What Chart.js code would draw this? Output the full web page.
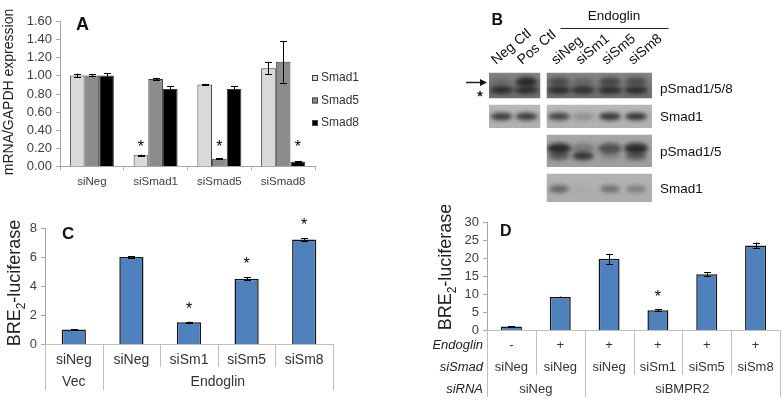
<!DOCTYPE html>
<html>
<head>
<meta charset="utf-8">
<script src="https://cdn.jsdelivr.net/npm/chart.js@4.4.0/dist/chart.umd.min.js"></script>
<style>
html, body { margin: 0; padding: 0; background: #fff; }
body { width: 784px; height: 402px; position: relative; overflow: hidden; }
canvas { position: absolute; }
#chartA { left: 0; top: 0; }
#blotB { left: 390px; top: 0; }
#chartC { left: 0; top: 200px; }
#chartD { left: 390px; top: 205px; }
</style>
</head>
<body>
<canvas id="chartA" width="390" height="200"></canvas>
<canvas id="blotB" width="394" height="205"></canvas>
<canvas id="chartC" width="390" height="202"></canvas>
<canvas id="chartD" width="394" height="197"></canvas>
<script>
// ---- panel A data
var catsA = ['siNeg', 'siSmad1', 'siSmad5', 'siSmad8'];
var yTicksA = [0, 0.2, 0.4, 0.6, 0.8, 1.0, 1.2, 1.4, 1.6];
var smad1 = [1.00, 0.12, 0.90, 1.08];
var smad1Err = [0.02, 0.006, 0.006, 0.07];
var smad5 = [1.00, 0.96, 0.08, 1.15];
var smad5Err = [0.01, 0.012, 0.004, 0.23];
var smad8 = [1.00, 0.85, 0.85, 0.05];
var smad8Err = [0.025, 0.03, 0.03, 0.004];
var smad1Star = [false, true, false, false];
var smad5Star = [false, false, true, false];
var smad8Star = [false, false, false, true];

// ---- panel B (blot) data
var laneNames = ['Neg Ctl', 'Pos Ctl', 'siNeg', 'siSm1', 'siSm5', 'siSm8'];
var blotRows = ['pSmad1/5/8', 'Smad1', 'pSmad1/5', 'Smad1'];
var pSmad158Upper = [0.2, 0.95, 0.6, 0.25, 0.65, 0.6];
var pSmad158Lower = [0.9, 0.9, 0.9, 0.85, 0.9, 0.9];
var smad1Band = [0.85, 0.85, 0.8, 0.25, 0.9, 0.9];
var pSmad15Upper = [0.95, 0.3, 0.65, 0.95];
var pSmad15Lower = [0.6, 0.9, 0.2, 0.6];
var smad1BandB = [0.55, 0.05, 0.45, 0.35];

// ---- panel C data
var catsC = ['siNeg', 'siNeg', 'siSm1', 'siSm5', 'siSm8'];
var groupsC = [['Vec', 1], ['Endoglin', 4]];
var yTicksC = [0, 2, 4, 6, 8];
var valsC = [1.0, 6.0, 1.5, 4.5, 7.2];
var errC = [0.03, 0.05, 0.05, 0.12, 0.1];
var starsC = [false, false, true, true, true];

// ---- panel D data
var endoglinD = ['-', '+', '+', '+', '+', '+'];
var siSmadD = ['siNeg', 'siNeg', 'siNeg', 'siSm1', 'siSm5', 'siSm8'];
var siRnaD = [['siNeg', 2], ['siBMPR2', 4]];
var yTicksD = [0, 5, 10, 15, 20, 25, 30];
var valsD = [1.0, 9.2, 19.8, 5.5, 15.5, 23.5];
var errD = [0.1, 0.1, 1.4, 0.25, 0.6, 0.8];
var starsD = [false, false, false, true, false, false];

var FONT = '"Liberation Sans", Arial, sans-serif';
Chart.defaults.font.family = FONT;
Chart.defaults.color = '#404040';

function cells(list) { return list.map(function (t) { return [t, 1]; }); }

// one plugin per chart: y ticks, error bars, stars, legend, letter, y title, label rows
function makeExtras(o) {
  return {
    id: 'extras',
    afterDatasetsDraw: function (chart) {
      var ctx = chart.ctx, ys = chart.scales.y, area = chart.chartArea;
      ctx.save();

      var lx = Math.round(area.left);
      ctx.font = '13px ' + FONT;
      ctx.fillStyle = '#404040';
      ctx.textAlign = 'right';
      ctx.textBaseline = 'middle';
      ctx.strokeStyle = '#a6a6a6';
      ctx.lineWidth = 1;
      o.yTicks.forEach(function (tv) {
        var py = Math.round(ys.getPixelForValue(tv)) + 0.5;
        ctx.beginPath();
        ctx.moveTo(lx - 4, py); ctx.lineTo(lx, py);
        ctx.stroke();
        ctx.fillText(tv.toFixed(o.decimals), lx - 8, py);
      });

      chart.data.datasets.forEach(function (ds, di) {
        var meta = chart.getDatasetMeta(di);
        meta.data.forEach(function (bar, i) {
          var v = ds.data[i], e = ds.errors ? ds.errors[i] : 0;
          var top = ys.getPixelForValue(v + e), bot = ys.getPixelForValue(v - e);
          if (e > 0) {
            ctx.strokeStyle = '#000';
            ctx.lineWidth = 1;
            var bx = Math.round(bar.x) + 0.5;
            ctx.beginPath();
            ctx.moveTo(bx, top); ctx.lineTo(bx, bot);
            ctx.moveTo(bx - o.cap, Math.round(top) + 0.5); ctx.lineTo(bx + o.cap, Math.round(top) + 0.5);
            ctx.moveTo(bx - o.cap, Math.round(bot) + 0.5); ctx.lineTo(bx + o.cap, Math.round(bot) + 0.5);
            ctx.stroke();
          }
          if (ds.stars && ds.stars[i]) {
            var sy = o.starValue != null ? ys.getPixelForValue(o.starValue) : top - o.starGap;
            ctx.fillStyle = '#000';
            ctx.font = '16px ' + FONT;
            ctx.textAlign = 'center';
            ctx.textBaseline = 'alphabetic';
            ctx.fillText('*', bar.x, sy + 9);
          }
        });
      });

      if (o.legend) {
        ctx.font = '12px ' + FONT;
        ctx.textAlign = 'left';
        ctx.textBaseline = 'middle';
        chart.data.datasets.forEach(function (ds, di) {
          var ly = o.legend.y[di];
          ctx.fillStyle = ds.backgroundColor;
          ctx.fillRect(o.legend.x, ly - 3, 6, 6);
          ctx.strokeStyle = '#404040';
          ctx.lineWidth = 1;
          ctx.strokeRect(o.legend.x + 0.5, ly - 2.5, 5, 5);
          ctx.fillStyle = '#333';
          ctx.fillText(ds.label, o.legend.x + 9, ly);
        });
      }

      ctx.fillStyle = '#111';
      ctx.font = 'bold ' + o.letter.size + 'px ' + FONT;
      ctx.textAlign = 'left';
      ctx.textBaseline = 'alphabetic';
      ctx.fillText(o.letter.text, o.letter.x, o.letter.y);

      var t = o.title, sz = t.size, subSz = Math.round(sz * 0.65);
      ctx.translate(t.x, t.y);
      ctx.rotate(-Math.PI / 2);
      ctx.fillStyle = '#222';
      var total = 0;
      t.parts.forEach(function (p) {
        ctx.font = (p.sub ? subSz : sz) + 'px ' + FONT;
        total += ctx.measureText(p.text).width;
      });
      var px = -total / 2;
      t.parts.forEach(function (p) {
        ctx.font = (p.sub ? subSz : sz) + 'px ' + FONT;
        ctx.fillText(p.text, px, p.sub ? sz * 0.28 : 0);
        px += ctx.measureText(p.text).width;
      });
      ctx.setTransform(1, 0, 0, 1, 0, 0);

      if (o.rows) {
        var n = chart.data.labels.length, w = (area.right - area.left) / n;
        o.rows.forEach(function (row) {
          var pos = 0, bounds = [0];
          ctx.fillStyle = '#333';
          ctx.font = o.rowFont + 'px ' + FONT;
          ctx.textAlign = 'center';
          ctx.textBaseline = 'middle';
          row.cells.forEach(function (c) {
            ctx.fillText(c[0], area.left + (pos + c[1] / 2) * w, row.y);
            pos += c[1];
            bounds.push(pos);
          });
          ctx.strokeStyle = '#bfbfbf';
          ctx.lineWidth = 1;
          ctx.beginPath();
          bounds.forEach(function (b) {
            var bx = Math.round(area.left + b * w) + 0.5;
            ctx.moveTo(bx, area.bottom); ctx.lineTo(bx, row.end);
          });
          ctx.stroke();
          if (row.title) {
            ctx.fillStyle = '#222';
            ctx.font = 'italic ' + o.rowFont + 'px ' + FONT;
            ctx.textAlign = 'right';
            ctx.fillText(row.title, area.left - 4, row.y);
          }
        });
      }
      ctx.restore();
    }
  };
}

function yAxis(ticks, width) {
  return {
    min: ticks[0], max: ticks[ticks.length - 1],
    ticks: { display: false },
    grid: { display: false },
    border: { color: '#a6a6a6' },
    afterFit: function (s) { s.width = width; }
  };
}

function baseOptions(padding) {
  return {
    responsive: false,
    animation: false,
    devicePixelRatio: 1,
    layout: { padding: padding },
    plugins: { legend: { display: false }, tooltip: { enabled: false } }
  };
}

// ---- A
var optA = baseOptions({ left: 0, top: 21, right: 75, bottom: 0 });
optA.scales = {
  x: {
    ticks: { font: { size: 11.5 }, color: '#404040', padding: 5 },
    grid: { drawOnChartArea: false, tickLength: 4, color: '#a6a6a6' },
    border: { color: '#a6a6a6' },
    afterFit: function (s) { s.height = 34; }
  },
  y: yAxis(yTicksA, 60)
};
new Chart(document.getElementById('chartA'), {
  type: 'bar',
  data: {
    labels: catsA,
    datasets: [
      { label: 'Smad1', data: smad1, errors: smad1Err, stars: smad1Star, backgroundColor: '#d9d9d9' },
      { label: 'Smad5', data: smad5, errors: smad5Err, stars: smad5Star, backgroundColor: '#8c8c8c' },
      { label: 'Smad8', data: smad8, errors: smad8Err, stars: smad8Star, backgroundColor: '#000000' }
    ].map(function (d) {
      d.borderColor = '#3a3a3a'; d.borderWidth = 1;
      d.categoryPercentage = 0.69; d.barPercentage = 1.0;
      return d;
    })
  },
  options: optA,
  plugins: [makeExtras({
    yTicks: yTicksA, decimals: 2,
    cap: 3.5, starValue: 0.25,
    legend: { x: 312, y: [78, 100.5, 123] },
    letter: { text: 'A', x: 76, y: 29.5, size: 18 },
    title: { x: 12.5, y: 92, size: 14, parts: [{ text: 'mRNA/GAPDH expression' }] }
  })]
});

// ---- C
var optC = baseOptions({ left: 0, top: 28, right: 57, bottom: 0 });
optC.scales = {
  x: {
    ticks: { display: false },
    grid: { display: false },
    border: { color: '#bfbfbf' },
    afterFit: function (s) { s.height = 58; }
  },
  y: yAxis(yTicksC, 45)
};
new Chart(document.getElementById('chartC'), {
  type: 'bar',
  data: {
    labels: catsC,
    datasets: [{
      data: valsC, errors: errC, stars: starsC,
      backgroundColor: '#4f81bd', borderColor: '#151515', borderWidth: 1.5,
      categoryPercentage: 1, barPercentage: 0.42
    }]
  },
  options: optC,
  plugins: [makeExtras({
    yTicks: yTicksC, decimals: 0,
    cap: 3.5, starGap: 17,
    letter: { text: 'C', x: 62, y: 39, size: 17 },
    title: { x: 19.5, y: 83, size: 18, parts: [{ text: 'BRE' }, { text: '2', sub: true }, { text: '-luciferase' }] },
    rowFont: 14,
    rows: [
      { cells: cells(catsC), y: 160.5, end: 167 },
      { cells: groupsC, y: 182, end: 190 }
    ]
  })]
});

// ---- D
var optD = baseOptions({ left: 0, top: 17, right: 4, bottom: 0 });
optD.scales = {
  x: {
    ticks: { display: false },
    grid: { display: false },
    border: { color: '#bfbfbf' },
    afterFit: function (s) { s.height = 72; }
  },
  y: yAxis(yTicksD, 97)
};
new Chart(document.getElementById('chartD'), {
  type: 'bar',
  data: {
    labels: siSmadD,
    datasets: [{
      data: valsD, errors: errD, stars: starsD,
      backgroundColor: '#4f81bd', borderColor: '#151515', borderWidth: 1.5,
      categoryPercentage: 1, barPercentage: 0.43
    }]
  },
  options: optD,
  plugins: [makeExtras({
    yTicks: yTicksD, decimals: 0,
    cap: 3.5, starGap: 16,
    letter: { text: 'D', x: 110, y: 31, size: 16 },
    title: { x: 61, y: 62, size: 18, parts: [{ text: 'BRE' }, { text: '2', sub: true }, { text: '-luciferase' }] },
    rowFont: 13,
    rows: [
      { cells: cells(endoglinD), y: 140, end: 170, title: 'Endoglin' },
      { cells: cells(siSmadD), y: 162.5, end: 170, title: 'siSmad' },
      { cells: siRnaD, y: 184.5, end: 192, title: 'siRNA' }
    ]
  })]
});

// ---- B: western blot picture
function drawBlot() {
  var c = document.getElementById('blotB');
  var ctx = c.getContext('2d');
  var ox = 390;
  var leftBox = [489, 540.5], rightBox = [546.5, 652];
  var leftLanes = [501.5, 526.5], rightLanes = [559, 583, 610, 636];

  function box(x0, x1, y0, y1, bgTop, bgBot, bands) {
    ctx.save();
    ctx.beginPath();
    ctx.rect(x0 - ox, y0, x1 - x0, y1 - y0);
    ctx.clip();
    var g = ctx.createLinearGradient(0, y0, 0, y1);
    g.addColorStop(0, bgTop); g.addColorStop(1, bgBot);
    ctx.fillStyle = g;
    ctx.fillRect(x0 - ox, y0, x1 - x0, y1 - y0);
    ctx.filter = 'blur(2px)';
    bands.forEach(function (b) {
      b.lanes.forEach(function (lx, i) {
        ctx.globalAlpha = b.alpha[i];
        ctx.fillStyle = '#262626';
        ctx.beginPath();
        ctx.ellipse(lx - ox, b.y, b.rx, b.ry, 0, 0, Math.PI * 2);
        ctx.fill();
      });
    });
    ctx.restore();
  }

  // pSmad1/5/8
  box(leftBox[0], leftBox[1], 72.5, 98.5, '#858585', '#6e6e6e', [
    { lanes: leftLanes, y: 82, rx: 11, ry: 5, alpha: pSmad158Upper.slice(0, 2) },
    { lanes: leftLanes, y: 90, rx: 12, ry: 4, alpha: pSmad158Lower.slice(0, 2) }
  ]);
  box(rightBox[0], rightBox[1], 72.5, 98.5, '#858585', '#6e6e6e', [
    { lanes: rightLanes, y: 81.5, rx: 11, ry: 4, alpha: pSmad158Upper.slice(2) },
    { lanes: rightLanes, y: 90, rx: 12, ry: 4, alpha: pSmad158Lower.slice(2) }
  ]);
  // Smad1
  box(leftBox[0], leftBox[1], 104.5, 128, '#b8b8b8', '#b0b0b0', [
    { lanes: leftLanes, y: 116.5, rx: 11, ry: 3.8, alpha: smad1Band.slice(0, 2) }
  ]);
  box(rightBox[0], rightBox[1], 104.5, 128, '#b8b8b8', '#b0b0b0', [
    { lanes: rightLanes, y: 116.5, rx: 11, ry: 3.8, alpha: smad1Band.slice(2) }
  ]);
  // pSmad1/5
  box(rightBox[0], rightBox[1], 134.5, 167, '#a6a6a6', '#9e9e9e', [
    { lanes: rightLanes, y: 148.5, rx: 12, ry: 5.5, alpha: pSmad15Upper },
    { lanes: rightLanes, y: 156, rx: 11, ry: 4, alpha: pSmad15Lower }
  ]);
  // Smad1
  box(rightBox[0], rightBox[1], 173.5, 202, '#b4b4b4', '#acacac', [
    { lanes: rightLanes, y: 189, rx: 10, ry: 3.8, alpha: smad1BandB }
  ]);

  ctx.fillStyle = '#111';
  ctx.textBaseline = 'alphabetic';
  // lane labels
  ctx.font = '14px ' + FONT;
  ctx.textAlign = 'left';
  var starts = [496, 522, 556, 580.5, 606.5, 633];
  laneNames.forEach(function (name, i) {
    ctx.save();
    ctx.translate(starts[i] - ox, 65);
    ctx.rotate(-40 * Math.PI / 180);
    ctx.fillText(name, 0, 0);
    ctx.restore();
  });
  // Endoglin header
  ctx.font = '13.5px ' + FONT;
  ctx.textAlign = 'center';
  ctx.fillText('Endoglin', 614 - ox, 19.5);
  ctx.strokeStyle = '#222';
  ctx.lineWidth = 1;
  ctx.beginPath();
  ctx.moveTo(560.5 - ox, 28.5); ctx.lineTo(668.5 - ox, 28.5);
  ctx.stroke();
  // row labels
  ctx.textAlign = 'left';
  ctx.textBaseline = 'middle';
  var rowY = [89, 117, 152, 189.5];
  blotRows.forEach(function (t, i) { ctx.fillText(t, 660 - ox, rowY[i]); });
  // B letter
  ctx.textBaseline = 'alphabetic';
  ctx.font = 'bold 16px ' + FONT;
  ctx.fillText('B', 491.5 - ox, 25);
  // arrow and asterisk
  ctx.beginPath();
  ctx.moveTo(466 - ox, 82.5); ctx.lineTo(482 - ox, 82.5);
  ctx.lineWidth = 1.5;
  ctx.stroke();
  ctx.beginPath();
  ctx.moveTo(487 - ox, 82.5); ctx.lineTo(480 - ox, 79); ctx.lineTo(480 - ox, 86); ctx.closePath();
  ctx.fill();
  ctx.font = 'bold 14px ' + FONT;
  ctx.textAlign = 'center';
  ctx.fillText('*', 480 - ox, 101);
}
drawBlot();
</script>
</body>
</html>
